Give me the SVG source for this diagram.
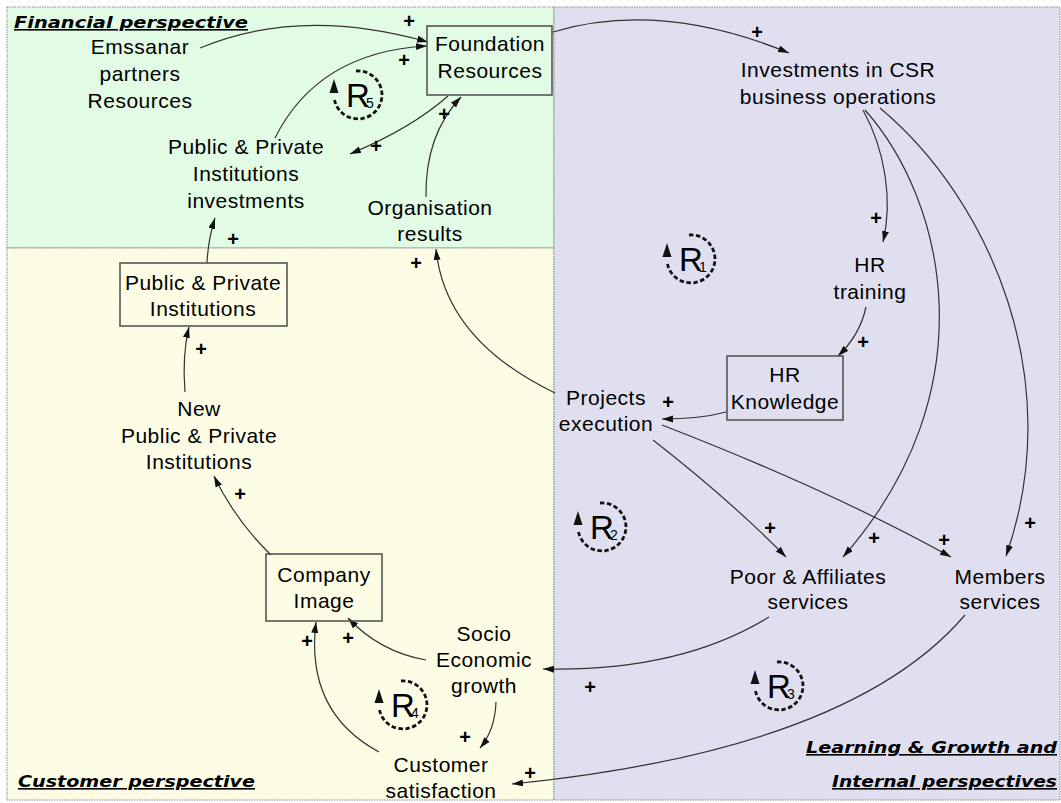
<svg xmlns="http://www.w3.org/2000/svg" width="1061" height="803" viewBox="0 0 1061 803">
<style>
.panel{stroke:#8a8a8a;stroke-width:1;stroke-dasharray:1.5 1}
.t{font-family:"Liberation Sans",Arial,sans-serif;font-size:21px;fill:#000;text-anchor:middle;letter-spacing:0.5px}
.p{font-family:"Liberation Sans",Arial,sans-serif;font-size:20px;font-weight:bold;fill:#000;text-anchor:middle}
.h{font-family:"DejaVu Sans",Verdana,sans-serif;font-size:16px;font-weight:bold;font-style:italic;fill:#000;text-decoration:underline}
.box{fill:none;stroke:#555;stroke-width:1.6}
.c{fill:none;stroke:#333;stroke-width:1.2;marker-end:url(#ah)}
.arc{fill:none;stroke:#111;stroke-width:2.8;stroke-dasharray:4.5 2.5}
.ahd{fill:#111;stroke:none}
.R{font-family:"Liberation Sans",Arial,sans-serif;font-size:33px;fill:#000;text-anchor:middle}
.s{font-family:"Liberation Sans",Arial,sans-serif;font-size:14px;fill:#000;text-anchor:middle}
</style>
<defs>
<marker id="ah" markerWidth="12" markerHeight="8" refX="11" refY="3.5" orient="auto" markerUnits="userSpaceOnUse">
<path d="M0,0 L11,3.5 L0,7 z" fill="#111"/>
</marker>
</defs>

<g id="panels">
<rect class="panel" x="7" y="7" width="547" height="241" fill="#e2fbe4"/>
<rect class="panel" x="7" y="248" width="547" height="552" fill="#fdfde6"/>
<rect class="panel" x="554" y="7" width="506" height="793" fill="#dfdff0"/>
</g>

<g id="titles">
<text class="h" x="14" y="28" textLength="234" lengthAdjust="spacingAndGlyphs">Financial perspective</text>
<text class="h" x="18" y="787" textLength="237" lengthAdjust="spacingAndGlyphs">Customer perspective</text>
<text class="h" x="806" y="753" textLength="251" lengthAdjust="spacingAndGlyphs">Learning &amp; Growth and</text>
<text class="h" x="832" y="787" textLength="225" lengthAdjust="spacingAndGlyphs">Internal perspectives</text>
</g>

<g id="connectors">
<path class="c" d="M 200,48 Q 300,6 428,42"/>
<path class="c" d="M 275,138 Q 318,52 427,46"/>
<path class="c" d="M 448,96 Q 412,128 350,154"/>
<path class="c" d="M 426,197 Q 425,135 461,97"/>
<path class="c" d="M 553,32 Q 660,0 789,53"/>
<path class="c" d="M 863,110 C 885,150 893,200 883,242"/>
<path class="c" d="M 865,110 C 945,200 990,390 843,557"/>
<path class="c" d="M 880,108 C 990,200 1068,380 1006,556"/>
<path class="c" d="M 866,307 Q 860,335 838,356"/>
<path class="c" d="M 726,412 Q 700,419 662,419"/>
<path class="c" d="M 555,393 Q 445,340 436,249"/>
<path class="c" d="M 653,440 Q 730,500 786,557"/>
<path class="c" d="M 662,425 Q 830,490 951,557"/>
<path class="c" d="M 769,617 Q 680,672 543,669"/>
<path class="c" d="M 965,615 Q 850,750 512,784"/>
<path class="c" d="M 426,660 Q 380,652 348,618"/>
<path class="c" d="M 379,752 Q 305,712 316,622"/>
<path class="c" d="M 496,702 Q 495,730 480,748"/>
<path class="c" d="M 271,555 Q 235,520 214,476"/>
<path class="c" d="M 185,392 Q 182,355 189,327"/>
<path class="c" d="M 207,263 Q 208,240 215,218"/>
</g>

<g id="polarities">
<text class="p" x="409" y="28">+</text>
<text class="p" x="404" y="67">+</text>
<text class="p" x="376" y="153">+</text>
<text class="p" x="444" y="121">+</text>
<text class="p" x="757" y="39">+</text>
<text class="p" x="876" y="225">+</text>
<text class="p" x="863" y="349">+</text>
<text class="p" x="668" y="409">+</text>
<text class="p" x="416" y="270">+</text>
<text class="p" x="233" y="246">+</text>
<text class="p" x="201" y="356">+</text>
<text class="p" x="240" y="501">+</text>
<text class="p" x="770" y="535">+</text>
<text class="p" x="874" y="545">+</text>
<text class="p" x="944" y="547">+</text>
<text class="p" x="1030" y="530">+</text>
<text class="p" x="590" y="694">+</text>
<text class="p" x="530" y="780">+</text>
<text class="p" x="348" y="645">+</text>
<text class="p" x="307" y="648">+</text>
<text class="p" x="465" y="744">+</text>
</g>

<g id="emssanar"><text class="t" x="140" y="54">Emssanar</text><text class="t" x="140" y="81">partners</text><text class="t" x="140" y="108">Resources</text></g>
<g id="foundation"><rect class="box" x="427" y="26" width="125" height="69"/><text class="t" x="490" y="51">Foundation</text><text class="t" x="490" y="78">Resources</text></g>
<g id="ppi-investments"><text class="t" x="246" y="154">Public &amp; Private</text><text class="t" x="246" y="181">Institutions</text><text class="t" x="246" y="208">investments</text></g>
<g id="org-results"><text class="t" x="430" y="215">Organisation</text><text class="t" x="430" y="241">results</text></g>
<g id="csr"><text class="t" x="838" y="77">Investments in CSR</text><text class="t" x="838" y="104">business operations</text></g>
<g id="hr-training"><text class="t" x="870" y="272">HR</text><text class="t" x="870" y="299">training</text></g>
<g id="hr-knowledge"><rect class="box" x="727" y="356" width="116" height="64"/><text class="t" x="785" y="382">HR</text><text class="t" x="785" y="409">Knowledge</text></g>
<g id="projects"><text class="t" x="606" y="405">Projects</text><text class="t" x="606" y="431">execution</text></g>
<g id="ppi"><rect class="box" x="120" y="263" width="167" height="63"/><text class="t" x="203" y="290">Public &amp; Private</text><text class="t" x="203" y="316">Institutions</text></g>
<g id="new-ppi"><text class="t" x="199" y="416">New</text><text class="t" x="199" y="443">Public &amp; Private</text><text class="t" x="199" y="469">Institutions</text></g>
<g id="company-image"><rect class="box" x="266" y="554" width="116" height="67"/><text class="t" x="324" y="582">Company</text><text class="t" x="324" y="608">Image</text></g>
<g id="socio"><text class="t" x="484" y="641">Socio</text><text class="t" x="484" y="667">Economic</text><text class="t" x="484" y="693">growth</text></g>
<g id="customer-satisfaction"><text class="t" x="441" y="772">Customer</text><text class="t" x="441" y="798">satisfaction</text></g>
<g id="poor"><text class="t" x="808" y="584">Poor &amp; Affiliates</text><text class="t" x="808" y="609">services</text></g>
<g id="members"><text class="t" x="1000" y="584">Members</text><text class="t" x="1000" y="609">services</text></g>

<g id="loop-r1" transform="translate(691,259)"><path class="arc" d="M -2,-24 A 24,24 0 1 1 -23.5,5"/><path class="ahd" d="M -24,-16 L -28.5,-2 L -19.5,-2 z"/><text class="R" x="0" y="12">R</text><text class="s" x="12" y="13">1</text></g>
<g id="loop-r2" transform="translate(602,527)"><path class="arc" d="M -2,-24 A 24,24 0 1 1 -23.5,5"/><path class="ahd" d="M -24,-16 L -28.5,-2 L -19.5,-2 z"/><text class="R" x="0" y="12">R</text><text class="s" x="12" y="13">2</text></g>
<g id="loop-r3" transform="translate(779,686)"><path class="arc" d="M -2,-24 A 24,24 0 1 1 -23.5,5"/><path class="ahd" d="M -24,-16 L -28.5,-2 L -19.5,-2 z"/><text class="R" x="0" y="12">R</text><text class="s" x="12" y="13">3</text></g>
<g id="loop-r4" transform="translate(403,705)"><path class="arc" d="M -2,-24 A 24,24 0 1 1 -23.5,5"/><path class="ahd" d="M -24,-16 L -28.5,-2 L -19.5,-2 z"/><text class="R" x="0" y="12">R</text><text class="s" x="12" y="13">4</text></g>
<g id="loop-r5" transform="translate(358,95)"><path class="arc" d="M -2,-24 A 24,24 0 1 1 -23.5,5"/><path class="ahd" d="M -24,-16 L -28.5,-2 L -19.5,-2 z"/><text class="R" x="0" y="12">R</text><text class="s" x="12" y="13">5</text></g>
</svg>
